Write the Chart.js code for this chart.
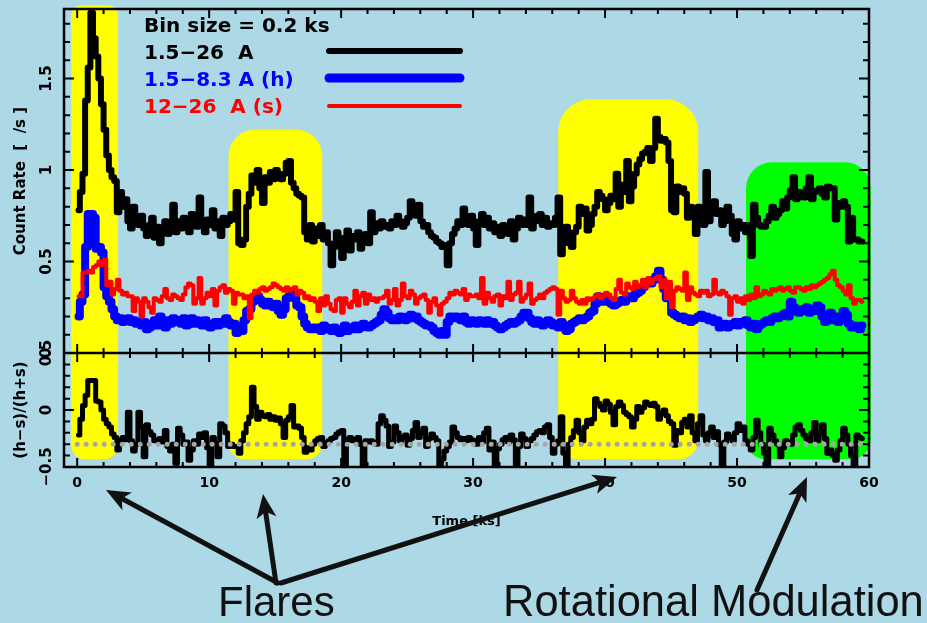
<!DOCTYPE html>
<html>
<head>
<meta charset="utf-8">
<script src="https://cdn.jsdelivr.net/npm/chart.js@4/dist/chart.umd.min.js"></script>
<style>
html,body{margin:0;padding:0;background:#add8e6;}
#wrap{position:relative;width:927px;height:623px;}
canvas{display:block;}
</style>
</head>
<body>
<div id="wrap"><canvas id="c" width="927" height="623"></canvas></div>
<script>
// ---------------- DATA ----------------
const binSize = 0.2; // ks
const binLabel = 'Bin size = 0.2 ks';
const seriesLabels = ['1.5\u221226  A', '1.5\u22128.3 A (h)', '12\u221226  A (s)'];

// 1.5-26 A total count rate (counts/s), 0.2 ks bins from t = 0
const totalRate = [
0.78,0.88,0.98,1.38,1.56, 1.86,1.72,1.62,1.50,1.36, 1.22,1.08,1.00,0.96,0.94, 0.77,0.88,0.80,0.84,0.72,
0.68,0.80,0.72,0.70,0.75, 0.68,0.64,0.70,0.74,0.63, 0.69,0.60,0.67,0.72,0.65, 0.70,0.81,0.66,0.72,0.68,
0.74,0.70,0.66,0.76,0.71, 0.69,0.85,0.72,0.66,0.73, 0.70,0.78,0.68,0.72,0.64, 0.74,0.70,0.72,0.76,0.73,
0.88,0.60,0.59,0.62,0.80, 0.87,0.97,0.93,1.00,0.90, 0.82,0.96,0.93,0.99,0.95, 1.00,0.97,0.95,0.98,1.04,
1.05,0.93,0.90,0.87,0.86, 0.85,0.66,0.62,0.70,0.61, 0.68,0.64,0.70,0.62,0.66, 0.60,0.48,0.58,0.66,0.60,
0.52,0.63,0.67,0.56,0.64, 0.62,0.66,0.57,0.64,0.65, 0.60,0.77,0.66,0.71,0.68, 0.72,0.69,0.70,0.68,0.72,
0.70,0.75,0.72,0.69,0.71, 0.74,0.83,0.77,0.75,0.81, 0.72,0.69,0.70,0.66,0.64, 0.63,0.61,0.60,0.58,0.59,
0.48,0.60,0.65,0.68,0.72, 0.70,0.79,0.73,0.70,0.75, 0.68,0.59,0.72,0.76,0.70, 0.74,0.68,0.71,0.66,0.69,
0.64,0.70,0.67,0.65,0.72, 0.62,0.68,0.74,0.70,0.73, 0.70,0.85,0.68,0.72,0.75, 0.76,0.70,0.74,0.69,0.71,
0.70,0.74,0.85,0.54,0.66, 0.69,0.60,0.58,0.66,0.69, 0.80,0.76,0.79,0.67,0.70, 0.76,0.80,0.88,0.86,0.84,
0.78,0.82,0.86,0.84,0.98, 0.80,0.92,0.88,1.05,0.83, 0.91,0.98,1.03,1.06,1.09, 1.10,1.12,1.05,1.12,1.28,
1.18,1.16,1.17,1.15,1.05, 0.78,0.77,0.91,0.88,0.90, 0.87,0.74,0.80,0.76,0.65, 0.80,0.72,0.70,0.99,0.72,
0.78,0.83,0.76,0.78,0.70, 0.72,0.80,0.75,0.65,0.62, 0.72,0.68,0.70,0.66,0.70, 0.53,0.81,0.74,0.70,0.69,
0.69,0.72,0.75,0.80,0.74, 0.76,0.78,0.83,0.79,0.85, 0.89,0.96,0.84,0.88,0.86, 0.85,0.90,0.96,0.84,0.88,
0.89,0.90,0.87,0.85,0.91, 0.90,0.90,0.73,0.82,0.80, 0.83,0.80,0.61,0.74,0.62, 0.62,0.61,0.61
];

// 1.5-8.3 A hard band (h)
const hardRate = [
0.20,0.28,0.32,0.58,0.76, 0.76,0.74,0.57,0.58,0.55, 0.36,0.31,0.28,0.24,0.20, 0.18,0.19,0.17,0.18,0.19,
0.17,0.18,0.16,0.17,0.15, 0.17,0.13,0.14,0.16,0.18, 0.15,0.20,0.17,0.14,0.18, 0.16,0.19,0.17,0.18,0.16,
0.19,0.15,0.17,0.19,0.16, 0.18,0.17,0.15,0.18,0.16, 0.14,0.16,0.17,0.15,0.17, 0.16,0.19,0.17,0.15,0.16,
0.11,0.14,0.12,0.18,0.23, 0.24,0.28,0.30,0.31,0.29, 0.27,0.26,0.28,0.27,0.25, 0.27,0.23,0.21,0.24,0.30,
0.31,0.32,0.30,0.26,0.25, 0.20,0.16,0.14,0.13,0.14, 0.13,0.14,0.12,0.15,0.14, 0.13,0.12,0.14,0.13,0.11,
0.13,0.15,0.12,0.14,0.13, 0.15,0.13,0.14,0.16,0.15, 0.14,0.15,0.16,0.17,0.18, 0.21,0.24,0.22,0.19,0.18,
0.19,0.18,0.20,0.19,0.18, 0.20,0.21,0.19,0.20,0.18, 0.17,0.16,0.15,0.15,0.14, 0.12,0.11,0.10,0.12,0.10,
0.17,0.20,0.19,0.20,0.19, 0.18,0.20,0.17,0.16,0.18, 0.17,0.16,0.18,0.17,0.16, 0.18,0.16,0.17,0.15,0.14,
0.13,0.14,0.15,0.16,0.17, 0.16,0.17,0.18,0.20,0.22, 0.22,0.19,0.17,0.16,0.18, 0.17,0.15,0.16,0.18,0.17,
0.15,0.16,0.14,0.17,0.15, 0.12,0.13,0.16,0.17,0.18, 0.19,0.18,0.19,0.20,0.22, 0.23,0.27,0.31,0.30,0.28,
0.28,0.29,0.27,0.26,0.27, 0.28,0.29,0.28,0.30,0.31, 0.30,0.32,0.33,0.34,0.36, 0.38,0.39,0.38,0.40,0.42,
0.45,0.40,0.35,0.30,0.32, 0.22,0.21,0.20,0.19,0.20, 0.18,0.19,0.17,0.18,0.19, 0.20,0.21,0.19,0.20,0.18,
0.19,0.17,0.18,0.14,0.15, 0.16,0.14,0.15,0.16,0.17, 0.15,0.17,0.16,0.18,0.15, 0.14,0.16,0.13,0.15,0.16,
0.17,0.18,0.17,0.19,0.20, 0.19,0.20,0.21,0.22,0.20, 0.28,0.25,0.23,0.22,0.24, 0.23,0.25,0.22,0.24,0.23,
0.26,0.25,0.20,0.17,0.19, 0.22,0.18,0.20,0.17,0.19, 0.23,0.21,0.16,0.14,0.15, 0.14,0.13,0.15
];

// 12-26 A soft band (s)
const softRate = [
0.31,0.31,0.44,0.44,0.45, 0.44,0.47,0.48,0.50,0.48, 0.51,0.37,0.39,0.32,0.35, 0.40,0.34,0.32,0.33,0.31,
0.31,0.23,0.30,0.28,0.20, 0.30,0.28,0.25,0.22,0.30, 0.29,0.28,0.31,0.35,0.30, 0.29,0.32,0.31,0.30,0.29,
0.32,0.36,0.38,0.37,0.27, 0.30,0.41,0.27,0.30,0.33, 0.31,0.35,0.26,0.34,0.36, 0.37,0.33,0.35,0.34,0.27,
0.33,0.32,0.32,0.30,0.31, 0.19,0.32,0.34,0.33,0.35, 0.36,0.34,0.35,0.36,0.38, 0.37,0.36,0.35,0.34,0.36,
0.34,0.35,0.36,0.32,0.34, 0.33,0.30,0.31,0.29,0.30, 0.28,0.23,0.30,0.26,0.31, 0.27,0.24,0.23,0.29,0.30,
0.22,0.30,0.27,0.25,0.28, 0.34,0.26,0.31,0.33,0.27, 0.32,0.29,0.30,0.28,0.30, 0.30,0.31,0.34,0.27,0.29,
0.35,0.26,0.29,0.38,0.31, 0.30,0.34,0.32,0.27,0.30, 0.31,0.32,0.29,0.22,0.28, 0.30,0.26,0.21,0.27,0.28,
0.30,0.33,0.32,0.34,0.33, 0.32,0.35,0.29,0.32,0.31, 0.31,0.32,0.30,0.41,0.27, 0.33,0.30,0.28,0.31,0.32,
0.26,0.31,0.30,0.39,0.29, 0.32,0.33,0.39,0.28,0.30, 0.32,0.38,0.27,0.29,0.30, 0.32,0.30,0.33,0.34,0.35,
0.36,0.35,0.21,0.34,0.30, 0.28,0.29,0.34,0.30,0.28, 0.27,0.29,0.27,0.30,0.29, 0.30,0.31,0.32,0.30,0.31,
0.33,0.32,0.30,0.29,0.35, 0.40,0.33,0.32,0.38,0.36, 0.35,0.39,0.36,0.37,0.40, 0.36,0.41,0.38,0.40,0.41,
0.42,0.36,0.40,0.30,0.39, 0.25,0.34,0.36,0.35,0.34, 0.44,0.29,0.36,0.33,0.32, 0.31,0.34,0.33,0.34,0.31,
0.32,0.40,0.33,0.32,0.34, 0.33,0.31,0.21,0.30,0.31, 0.28,0.30,0.27,0.31,0.29, 0.32,0.30,0.36,0.31,0.32,
0.34,0.33,0.32,0.35,0.34, 0.35,0.36,0.34,0.35,0.36, 0.34,0.33,0.36,0.36,0.35, 0.34,0.36,0.35,0.37,0.36,
0.37,0.38,0.39,0.40,0.41, 0.43,0.45,0.40,0.37,0.36, 0.34,0.32,0.37,0.30,0.27, 0.29,0.29,0.28
];

// hardness ratio (h-s)/(h+s)
const hardnessRatio = [
-0.22,-0.08,0.04,0.13,0.26, 0.26,0.26,0.08,0.07,0.00, -0.08,-0.12,-0.15,-0.21,-0.24, -0.35,-0.27,-0.24,-0.26,-0.02,
-0.27,-0.36,-0.30,-0.02,-0.15, -0.41,-0.13,-0.19,-0.22,-0.27, -0.26,-0.25,-0.28,-0.18,-0.32, -0.36,-0.30,-0.47,-0.16,-0.22,
-0.30,-0.28,-0.44,-0.35,-0.27, -0.30,-0.21,-0.24,-0.20,-0.33, -0.50,-0.24,-0.30,-0.41,-0.12, -0.14,-0.20,-0.32,-0.30,-0.32,
-0.32,-0.38,-0.27,-0.20,-0.12, -0.06,0.20,0.03,-0.08,-0.02, -0.05,-0.06,-0.04,-0.08,-0.06, -0.09,-0.07,-0.12,-0.24,-0.09,
-0.06,0.04,-0.15,-0.14,-0.16, -0.24,-0.37,-0.33,-0.35,-0.30, -0.27,-0.25,-0.24,-0.32,-0.29, -0.27,-0.25,-0.24,-0.21,-0.19,
-0.18,-0.50,-0.26,-0.24,-0.27, -0.26,-0.24,-0.30,-0.50,-0.27, -0.28,-0.27,-0.29,-0.30,-0.12, -0.05,-0.09,-0.14,-0.32,-0.28,
-0.14,-0.20,-0.27,-0.24,-0.22, -0.31,-0.25,-0.18,-0.11,-0.24, -0.20,-0.16,-0.32,-0.25,-0.21, -0.24,-0.27,-0.50,-0.43,-0.36,
-0.32,-0.28,-0.15,-0.20,-0.24, -0.26,-0.25,-0.27,-0.24,-0.26, -0.27,-0.30,-0.24,-0.28,-0.20, -0.16,-0.35,-0.28,-0.50,-0.34,
-0.30,-0.26,-0.24,-0.28,-0.22, -0.26,-0.49,-0.32,-0.21,-0.25, -0.32,-0.27,-0.25,-0.22,-0.19, -0.18,-0.20,-0.15,-0.13,-0.24,
-0.38,-0.30,-0.27,-0.06,-0.38, -0.49,-0.30,-0.24,-0.18,-0.09, -0.20,-0.27,-0.15,-0.09,-0.12, -0.08,0.10,0.06,0.03,0.00,
0.08,0.05,-0.02,-0.13,0.03, 0.07,0.04,-0.02,-0.04,-0.06, -0.15,-0.08,0.03,-0.02,0.02, 0.07,0.05,0.04,0.06,0.03,
-0.08,-0.03,0.00,-0.05,-0.10, -0.12,-0.31,-0.18,-0.20,-0.11, -0.08,-0.15,-0.05,-0.20,-0.27, -0.12,-0.05,-0.22,-0.27,-0.20,
-0.15,-0.24,-0.19,-0.30,-0.50, -0.28,-0.21,-0.24,-0.27,-0.20, -0.12,-0.18,-0.15,-0.27,-0.30, -0.35,-0.24,-0.09,-0.20,-0.30,
-0.38,-0.49,-0.16,-0.22,-0.27, -0.30,-0.41,-0.33,-0.27,-0.28, -0.30,-0.22,-0.15,-0.13,-0.18, -0.22,-0.25,-0.27,-0.20,-0.11,
-0.27,-0.20,-0.13,-0.25,-0.38, -0.35,-0.40,-0.44,-0.35,-0.27, -0.16,-0.22,-0.30,-0.40,-0.50, -0.22,-0.24,-0.25
];

const hrReference = -0.3; // dotted reference level in lower panel
const referenceSpan = [0, 60];

// highlighted intervals (ks)
const flareIntervals = [[-0.45, 3.1], [11.47, 18.57], [36.45, 47.06]];
const modulationInterval = [50.68, 60.15];

// tick labels
const xTickValues = [0, 10, 20, 30, 40, 50, 60];
const topTickValues = [0, 0.5, 1, 1.5];
const topTickLabels = ['0', '0.5', '1', '1.5'];
const bottomTickValues = [-0.5, 0, 0.5];
const bottomTickLabels = ['\u22120.5', '0', '0.5'];

const annotationTexts = ['Flares', 'Rotational Modulation'];

// ---------------- CHART ----------------
const FONT = '"DejaVu Sans", sans-serif';
Chart.defaults.font.family = FONT;
const times = totalRate.map((_, i) => +(i * binSize + binSize / 2).toFixed(2));
const toPts = arr => arr.map((v, i) => ({x: times[i], y: v}));

const COLORS = {total: '#000000', hard: '#0000ff', soft: '#ff0000', hr: '#000000', ref: '#a6a6a6'};

const decorPlugin = {
  id: 'decor',
  beforeDatasetsDraw(chart) {
    const {ctx, scales: {x, y, y2}} = chart;
    const boxes = [
      {iv: flareIntervals[0], top: 1.90, r: [10, 10, 14, 14], c: '#ffff00'},
      {iv: flareIntervals[1], top: 1.22, r: [26, 26, 16, 16], c: '#ffff00'},
      {iv: flareIntervals[2], top: 1.385, r: [32, 32, 20, 20], c: '#ffff00'},
      {iv: modulationInterval, top: 1.042, r: [26, 26, 20, 20], c: '#00ff00'}
    ];
    ctx.save();
    for (const b of boxes) {
      const x0 = x.getPixelForValue(b.iv[0]), x1 = x.getPixelForValue(b.iv[1]);
      const t = y.getPixelForValue(b.top), bot = y2.getPixelForValue(-0.432);
      ctx.beginPath();
      ctx.roundRect(x0, t, x1 - x0, bot - t, b.r);
      ctx.fillStyle = b.c;
      ctx.fill();
    }
    ctx.restore();
  },
  afterDatasetsDraw(chart) {
    const {ctx, chartArea: a, scales: {x, y, y2}} = chart;
    ctx.save();
    ctx.strokeStyle = '#000';
    ctx.lineCap = 'butt';
    // ticks
    ctx.lineWidth = 2;
    ctx.beginPath();
    for (let v = 0; v <= 60; v += 2) {
      const px = x.getPixelForValue(v);
      const L = v % 10 === 0 ? 9 : 5;
      ctx.moveTo(px, y.top); ctx.lineTo(px, y.top + L);
      ctx.moveTo(px, y.bottom); ctx.lineTo(px, y.bottom - L);
      ctx.moveTo(px, y2.top); ctx.lineTo(px, y2.top + L);
      ctx.moveTo(px, y2.bottom); ctx.lineTo(px, y2.bottom - L);
    }
    for (let k = 0; k <= 18; k++) {
      const py = y.getPixelForValue(k / 10);
      const L = k % 5 === 0 ? 10 : 6;
      ctx.moveTo(a.left, py); ctx.lineTo(a.left + L, py);
      ctx.moveTo(a.right, py); ctx.lineTo(a.right - L, py);
    }
    for (let k = -5; k <= 5; k++) {
      const py = y2.getPixelForValue(k / 10);
      const L = k % 5 === 0 ? 10 : 6;
      ctx.moveTo(a.left, py); ctx.lineTo(a.left + L, py);
      ctx.moveTo(a.right, py); ctx.lineTo(a.right - L, py);
    }
    ctx.stroke();
    // frame
    ctx.lineWidth = 2.5;
    ctx.strokeRect(a.left, a.top, a.right - a.left, a.bottom - a.top);
    ctx.beginPath();
    ctx.moveTo(a.left, y.bottom); ctx.lineTo(a.right, y.bottom);
    ctx.stroke();
    // y tick labels (rotated)
    ctx.fillStyle = '#000';
    ctx.font = 'bold 15px ' + FONT;
    ctx.textAlign = 'center';
    ctx.textBaseline = 'middle';
    const drawRot = (txt, px, py) => {
      ctx.save(); ctx.translate(px, py); ctx.rotate(-Math.PI / 2); ctx.fillText(txt, 0, 0); ctx.restore();
    };
    topTickValues.forEach((v, i) => drawRot(topTickLabels[i], 47, y.getPixelForValue(v)));
    bottomTickValues.forEach((v, i) => drawRot(bottomTickLabels[i], 47, y2.getPixelForValue(v)));
    ctx.restore();
  },
  afterDraw(chart) {
    const {ctx} = chart;
    ctx.save();
    // legend block
    ctx.font = 'bold 20px ' + FONT;
    ctx.textAlign = 'left';
    ctx.textBaseline = 'middle';
    ctx.fillStyle = '#000';
    ctx.fillText(binLabel, 144, 27);
    const rows = [
      {txt: seriesLabels[0], c: COLORS.total, w: 6, ty: 54, ly: 51},
      {txt: seriesLabels[1], c: COLORS.hard, w: 9, ty: 81, ly: 78},
      {txt: seriesLabels[2], c: COLORS.soft, w: 4, ty: 108, ly: 106}
    ];
    ctx.lineCap = 'round';
    for (const r of rows) {
      ctx.fillStyle = r.c;
      ctx.fillText(r.txt, 144, r.ty);
      ctx.strokeStyle = r.c; ctx.lineWidth = r.w;
      ctx.beginPath(); ctx.moveTo(329, r.ly); ctx.lineTo(460, r.ly); ctx.stroke();
    }
    // annotations
    ctx.fillStyle = '#111';
    ctx.textBaseline = 'alphabetic';
    ctx.font = '42px "Liberation Sans", Arial, sans-serif';
    ctx.fillText(annotationTexts[0], 218, 616);
    ctx.font = '43.5px "Liberation Sans", Arial, sans-serif';
    ctx.fillText(annotationTexts[1], 503, 616);
    const arrow = (x0, y0, x1, y1) => {
      const ang = Math.atan2(y1 - y0, x1 - x0);
      const hl = 24, hw = 10;
      const c = Math.cos(ang), s = Math.sin(ang);
      const bx = x1 - hl * c, by = y1 - hl * s;
      const nx = x1 - hl * 0.75 * c, ny = y1 - hl * 0.75 * s;
      ctx.strokeStyle = '#111'; ctx.lineWidth = 5; ctx.lineCap = 'round';
      ctx.beginPath(); ctx.moveTo(x0, y0); ctx.lineTo(nx, ny); ctx.stroke();
      ctx.beginPath();
      ctx.moveTo(x1, y1);
      ctx.lineTo(bx - hw * s, by + hw * c);
      ctx.lineTo(nx, ny);
      ctx.lineTo(bx + hw * s, by - hw * c);
      ctx.closePath();
      ctx.fillStyle = '#111'; ctx.fill();
    };
    arrow(278, 583, 106, 490);
    arrow(276, 583, 263, 494);
    arrow(281, 583, 617, 477);
    arrow(757, 590, 807, 477);
    ctx.restore();
  }
};

const lineCommon = {pointRadius: 0, tension: 0, stepped: 'middle', borderJoinStyle: 'round', borderCapStyle: 'round', fill: false};

new Chart(document.getElementById('c'), {
  type: 'line',
  data: {
    datasets: [
      Object.assign({label: seriesLabels[2], data: toPts(softRate), yAxisID: 'y', borderColor: COLORS.soft, borderWidth: 4, order: 1}, lineCommon),
      Object.assign({label: seriesLabels[1], data: toPts(hardRate), yAxisID: 'y', borderColor: COLORS.hard, borderWidth: 8, order: 2}, lineCommon),
      Object.assign({label: seriesLabels[0], data: toPts(totalRate), yAxisID: 'y', borderColor: COLORS.total, borderWidth: 6, order: 3}, lineCommon),
      Object.assign({label: '(h\u2212s)/(h+s)', data: toPts(hardnessRatio), yAxisID: 'y2', borderColor: COLORS.hr, borderWidth: 5, order: 3}, lineCommon),
      {label: 'reference', data: referenceSpan.map(t => ({x: t, y: hrReference})), yAxisID: 'y2', borderColor: COLORS.ref,
       borderWidth: 5, borderDash: [0, 9], borderCapStyle: 'round', pointRadius: 0, stepped: false, order: 0}
    ]
  },
  options: {
    responsive: false,
    animation: false,
    devicePixelRatio: 1,
    layout: {padding: {left: 0, top: 9, right: 58, bottom: 93.6}},
    plugins: {legend: {display: false}, tooltip: {enabled: false}},
    scales: {
      x: {
        type: 'linear', position: 'bottom', min: -1, max: 60,
        grid: {display: false, drawTicks: false}, border: {display: false},
        afterBuildTicks: s => { s.ticks = xTickValues.map(v => ({value: v})); },
        ticks: {color: '#000', font: {family: FONT, weight: 'bold', size: 14}, padding: 8, maxRotation: 0, autoSkip: false},
        title: {display: true, text: 'Time [ks]', color: '#000', font: {family: FONT, weight: 'bold', size: 13}, padding: {top: 0, bottom: 0}},
        afterFit: s => { s.height = 62.4; }
      },
      y: {
        type: 'linear', position: 'left', stack: 'panels', stackWeight: 3.02, weight: 1,
        min: 0, max: 1.88,
        grid: {display: false, drawTicks: false}, border: {display: false},
        ticks: {display: false, stepSize: 0.5},
        title: {display: true, text: 'Count Rate  [  /s ]', color: '#000', font: {family: FONT, weight: 'bold', size: 15}, padding: {top: 12, bottom: 0}},
        afterFit: s => { s.width = 64; }
      },
      y2: {
        type: 'linear', position: 'left', stack: 'panels', stackWeight: 1, weight: 0,
        min: -0.5, max: 0.5,
        grid: {display: false, drawTicks: false}, border: {display: false},
        ticks: {display: false, stepSize: 0.5},
        title: {display: true, text: '(h\u2212s)/(h+s)', color: '#000', font: {family: FONT, weight: 'bold', size: 15}, padding: {top: 12, bottom: 0}},
        afterFit: s => { s.width = 64; }
      }
    }
  },
  plugins: [decorPlugin]
});
</script>
</body>
</html>
